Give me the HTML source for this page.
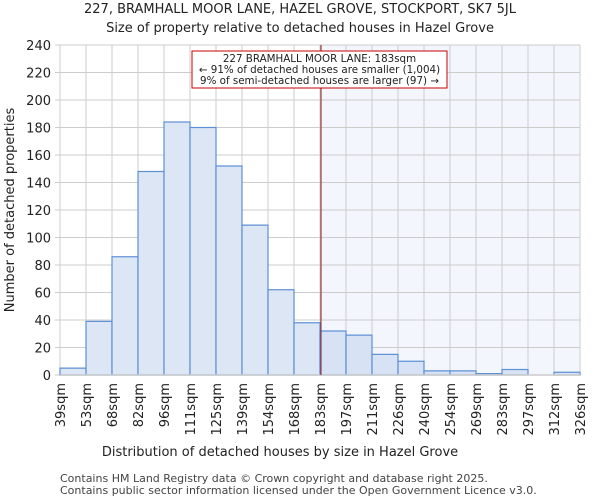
<!DOCTYPE html>
<html><head><meta charset="utf-8"><style>
body{margin:0;background:#fff;font-family:"DejaVu Sans","Liberation Sans",sans-serif}
svg text{font-family:"DejaVu Sans","Liberation Sans",sans-serif;fill:#222}
</style></head><body>
<svg id="chart" width="600" height="500">
<text x="300" y="13" text-anchor="middle" font-size="13">227, BRAMHALL MOOR LANE, HAZEL GROVE, STOCKPORT, SK7 5JL</text>
<text x="300" y="32" text-anchor="middle" font-size="13">Size of property relative to detached houses in Hazel Grove</text>
<g id="plot"></g>
<text x="280" y="456" text-anchor="middle" font-size="13">Distribution of detached houses by size in Hazel Grove</text>
<text transform="translate(14,210) rotate(-90)" text-anchor="middle" font-size="13">Number of detached properties</text>
<text x="60" y="482" font-size="11" style="fill:#444">Contains HM Land Registry data © Crown copyright and database right 2025.</text>
<text x="60" y="494" font-size="11" style="fill:#444">Contains public sector information licensed under the Open Government Licence v3.0.</text>
</svg>
<script>
const categories=["39sqm","53sqm","68sqm","82sqm","96sqm","111sqm","125sqm","139sqm","154sqm","168sqm","183sqm","197sqm","211sqm","226sqm","240sqm","254sqm","269sqm","283sqm","297sqm","312sqm","326sqm"];
const counts=[5,39,86,148,184,180,152,109,62,38,32,29,15,10,3,3,1,4,0,2];
const yTicks=[0,20,40,60,80,100,120,140,160,180,200,220,240];
const markerBin=10;
const L=60,R=580,T=45,B=375,yMax=240;
const n=counts.length,bw=(R-L)/n;
const x=i=>L+i*bw, y=v=>B-(v/yMax)*(B-T);
const g=document.getElementById('plot');
const NS='http://www.w3.org/2000/svg';
function mk(t,a){const e=document.createElementNS(NS,t);for(const k in a)e.setAttribute(k,a[k]);g.appendChild(e);return e;}
let e=mk('rect',{x:x(markerBin),y:T,width:R-x(markerBin),height:B-T,fill:'#f3f6fd'});


yTicks.forEach(v=>{
 let l=mk('line',{x1:L,x2:R,y1:y(v),y2:y(v),stroke:'#ccc','stroke-width':1});
 
 
 let tk=mk('line',{x1:L-5,x2:L,y1:y(v),y2:y(v),stroke:'#ccc'});
 
 
 let t=mk('text',{x:L-9,y:y(v)+5,'text-anchor':'end','font-size':13});
 t.textContent=v;
 
 
});
categories.forEach((c,i)=>{
 let l=mk('line',{x1:x(i),x2:x(i),y1:T,y2:B,stroke:'#ccc'});
 
 
 let t=mk('text',{transform:`translate(${x(i)+5},383) rotate(-90)`,'text-anchor':'end','font-size':13});
 t.textContent=c;
 
 
});
counts.forEach((v,i)=>{
 let r=mk('rect',{x:x(i),y:y(v),width:bw,height:B-y(v),fill:i<markerBin?'#dde6f5':'#d7e2f4',stroke:'#5b8fd6','stroke-width':1.2});
 
 
});
e=mk('line',{x1:L,x2:R,y1:B,y2:B,stroke:'#ccc','stroke-width':1.5});


e=mk('line',{x1:x(markerBin)+1,x2:x(markerBin)+1,y1:T,y2:B,stroke:'#8b1a1a','stroke-width':1});


e=mk('rect',{x:192,y:51,width:255,height:37,fill:'#fff',stroke:'#c00','stroke-width':1});


[["227 BRAMHALL MOOR LANE: 183sqm",62],["← 91% of detached houses are smaller (1,004)",73],["9% of semi-detached houses are larger (97) →",84]].forEach(([s,yy])=>{
 let t=mk('text',{x:319.5,y:yy,'text-anchor':'middle','font-size':10.3});
 t.textContent=s;
 
 
});
</script>
</body></html>
